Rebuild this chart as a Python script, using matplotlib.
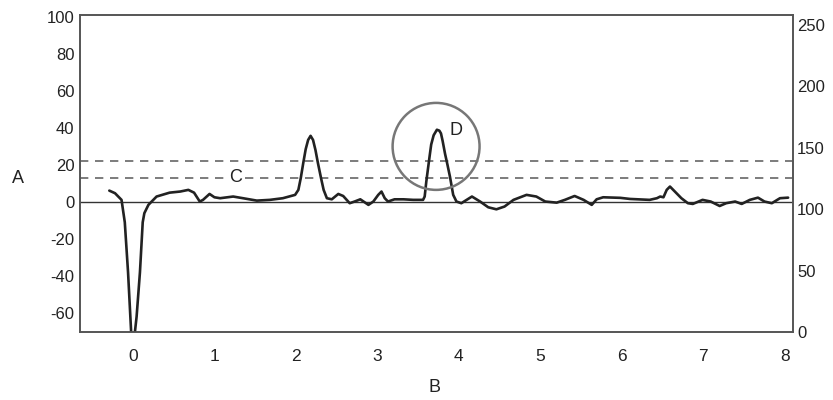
import matplotlib
matplotlib.use("Agg")
import matplotlib.pyplot as plt
from matplotlib.patches import Ellipse
from matplotlib import font_manager

plt.rcParams['font.family'] = ['Liberation Sans', 'DejaVu Sans']

# Trace of the signal (B, A)
b_vals = [-0.29, -0.22, -0.14, -0.10, -0.06, -0.02, 0.02, 0.045, 0.086, 0.12, 0.14, 0.19,
          0.29, 0.45, 0.58, 0.68, 0.75, 0.82, 0.86, 0.94, 1.00, 1.07, 1.23, 1.35, 1.52, 1.68,
          1.84, 1.99, 2.03, 2.06, 2.09, 2.12, 2.15, 2.18, 2.21, 2.24, 2.27, 2.31, 2.34, 2.38,
          2.44, 2.52, 2.58, 2.66,
          2.72, 2.79, 2.85, 2.89, 2.95, 3.01, 3.05, 3.09, 3.13, 3.21, 3.32, 3.44, 3.56, 3.58,
          3.60, 3.64, 3.66, 3.69, 3.73, 3.76, 3.78, 3.80, 3.83, 3.86, 3.89, 3.93, 3.97, 4.03,
          4.16, 4.26, 4.36, 4.46,
          4.56, 4.67, 4.83, 4.95, 5.06, 5.20, 5.30, 5.42, 5.53, 5.63, 5.69, 5.77, 5.98, 6.10,
          6.34, 6.43, 6.47, 6.51, 6.55, 6.59, 6.65, 6.73, 6.81, 6.87, 6.99, 7.09, 7.20, 7.28,
          7.39, 7.47, 7.57, 7.67, 7.75, 7.84, 7.94, 8.04]
a_vals = [6.1, 4.7, 1.1, -11, -38, -72, -72, -62, -38, -11, -6.1, -1.6,
          2.9, 5.0, 5.6, 6.5, 5.0, 0.2, 1.1, 4.3, 2.5, 2.0, 2.9, 2.0, 0.7, 1.1,
          2.0, 3.8, 6.5, 13.0, 21, 28.5, 33.5, 35.7, 33.5, 28.0, 21, 12.5, 6.5, 2.0,
          1.4, 4.3, 3.2, -0.7,
          0.2, 1.4, -0.4, -1.6, 0.2, 3.8, 5.6, 2.0, 0.2, 1.4, 1.4, 1.1, 1.1, 2.9,
          11, 24.5, 31.0, 36, 39, 38.5, 37, 33.0, 26, 20.0, 13.7, 3.8, 0.2, -0.7,
          2.9, 0.2, -2.9, -4.0,
          -2.5, 1.1, 3.8, 2.9, 0.2, -0.4, 1.1, 3.2, 1.1, -1.6, 1.4, 2.5, 2.2, 1.6,
          1.1, 2.0, 2.9, 2.5, 6.5, 8.3, 5.6, 2.0, -0.7, -1.1, 1.1, 0.2, -2.2, -0.7,
          0.2, -1.1, 1.1, 2.3, 0.2, -0.7, 2.0, 2.3]

thresholds = [22.2, 13.0]
x_ticks = [0, 1, 2, 3, 4, 5, 6, 7, 8]
left_ticks = [100, 80, 60, 40, 20, 0, -20, -40, -60]
right_ticks = [0, 50, 100, 150, 200, 250]

fig = plt.figure(figsize=(8.33, 4.0), dpi=100)
ax = fig.add_axes([0.096, 0.17, 0.856, 0.7925])

ax.set_xlim(-0.65, 8.1)
ax.set_ylim(-70.3, 101)

spine_col = '#555555'
for s in ax.spines.values():
    s.set_color(spine_col)
    s.set_linewidth(1.2)

ax.axhline(0, color='#333333', lw=1.0, zorder=2)
for t in thresholds:
    ax.axhline(t, color='#666666', lw=1.2, ls=(0, (5, 4)), zorder=2)

ax.plot(b_vals, a_vals, color='#222222', lw=1.9, solid_joinstyle='round',
        solid_capstyle='round', zorder=3, clip_on=True)

circ = Ellipse((3.72, 30.0), width=1.067, height=47.0, fill=False,
               edgecolor='#777777', lw=1.8, zorder=4)
ax.add_patch(circ)

ax.text(1.26, 13.0, 'C', fontsize=13, color='#222222', ha='center', va='center',
        bbox=dict(facecolor='white', edgecolor='none', pad=1.0), zorder=5)
ax.text(3.96, 38.4, 'D', fontsize=13, color='#222222', ha='center', va='center', zorder=5)

narrow = 'Liberation Sans Narrow'
try:
    font_manager.findfont(narrow, fallback_to_default=False)
    xfam = [narrow, 'DejaVu Sans']
except Exception:
    xfam = ['Liberation Sans', 'DejaVu Sans']

ax.set_xticks(x_ticks)
ax.set_xticklabels([str(v) for v in x_ticks], family=xfam, fontsize=12.5, color='#222222')
ax.tick_params(axis='x', length=0, pad=12)
ax.set_yticks(left_ticks)
ax.set_yticklabels([str(v) for v in left_ticks], fontsize=12, color='#222222')
ax.tick_params(axis='y', length=0, pad=4)

ax2 = ax.twinx()
ax2.set_ylim(0, 258)
ax2.set_yticks(right_ticks)
ax2.set_yticklabels([str(v) for v in right_ticks], fontsize=12, color='#222222')
ax2.tick_params(axis='y', length=0, pad=3)
for s in ax2.spines.values():
    s.set_color(spine_col)
    s.set_linewidth(1.2)

fig.text(18 / 833, 1 - 178 / 400, 'A', fontsize=13, color='#222222', ha='center', va='center')
fig.text(434 / 833, 1 - 387 / 400, 'B', fontsize=13, color='#222222', ha='center', va='center')

fig.savefig('out.png', dpi=100, facecolor='white')
